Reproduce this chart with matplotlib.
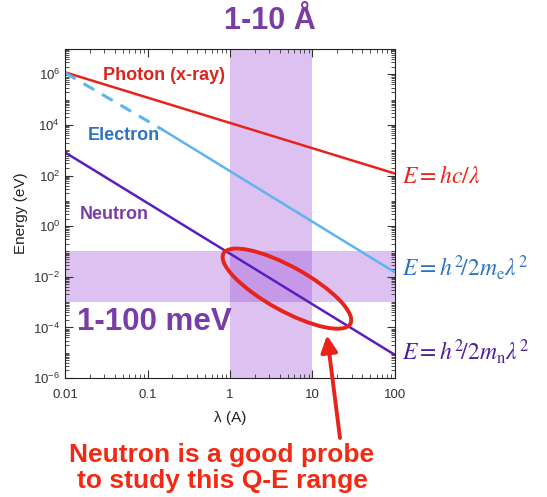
import matplotlib
matplotlib.use("Agg")
import matplotlib.pyplot as plt
from matplotlib.patches import Ellipse
from matplotlib.transforms import ScaledTranslation
from matplotlib.ticker import FixedLocator, LogLocator, NullFormatter, LogFormatterSciNotation
import numpy as np

plt.rcParams['font.family'] = ['Liberation Sans', 'DejaVu Sans']
plt.rcParams['mathtext.fontset'] = 'custom'
plt.rcParams['mathtext.rm'] = 'Liberation Sans'
plt.rcParams['mathtext.it'] = 'Liberation Sans:italic'

# data (wavelength in A, energy in eV)
photon_lam = [0.01, 100]
photon_E = [1.2e6, 1.2e2]
electron_dash_lam = [0.01, 0.154]
electron_dash_E = [1.15e6, 6.3e3]
electron_lam = [0.154, 100]
electron_E = [6.3e3, 1.5e-2]
neutron_lam = [0.01, 100]
neutron_E = [8.2e2, 8.2e-6]

lam_band = [1, 10]        # 1-10 A
E_band = [1e-3, 1e-1]     # 1-100 meV
ell_center = [4.9, 3.4e-3]

xticks = [0.01, 0.1, 1, 10, 100]
xticklabels = ['0.01', '0.1', '1', '10', '100']
yticks = [1e-6, 1e-4, 1e-2, 1e0, 1e2, 1e4, 1e6]

red = '#E8231C'
blue_line = '#5DB4F0'
blue_txt = '#2C73C2'
purple_line = '#5A1EC0'
purple_txt = '#7A3DA8'
band = '#9B4FD9'

fig = plt.figure(figsize=(5.47, 4.97), dpi=100)
ax = fig.add_axes([0.119, 0.2394, 0.603, 0.662])
ax.set_xscale('log')
ax.set_yscale('log')
ax.set_xlim(0.01, 100)
ax.set_ylim(1e-6, 1e7)

ax.axvspan(lam_band[0], lam_band[1], color=band, alpha=0.35, lw=0, zorder=0)
ax.axhspan(E_band[0], E_band[1], color=band, alpha=0.35, lw=0, zorder=0)

ax.plot(photon_lam, photon_E, color=red, lw=1.8)
ax.plot(electron_dash_lam, electron_dash_E, color=blue_line, lw=2.2, dashes=(4, 3))
ax.plot(electron_lam, electron_E, color=blue_line, lw=1.8)
ax.plot(neutron_lam, neutron_E, color=purple_line, lw=1.8)

ax.text(0.029, 9e5, 'Photon (x-ray)', color='#D8261E', fontsize=13, fontweight='bold', va='center')
ax.text(0.019, 4e3, 'Electron', color=blue_txt, fontsize=13, fontweight='bold', va='center')
ax.text(0.0152, 3, 'Neutron', color=purple_txt, fontsize=13, fontweight='bold', va='center')
ax.text(0.0138, 8e-5, '1-100 meV', color=purple_txt, fontsize=22.5, fontweight='bold', va='baseline')

# ellipse sized in inches, centred on data point
tr = fig.dpi_scale_trans + ScaledTranslation(ell_center[0], ell_center[1], ax.transData)
ell = Ellipse((0, 0), 1.45, 0.44, angle=-29, transform=tr, fill=False, ec=red, lw=2.8, zorder=5)
ax.add_patch(ell)

ax.annotate('', xy=(15, 4.9e-5), xycoords='data',
            xytext=(340 / 547, 1 - 438 / 497), textcoords='figure fraction',
            arrowprops=dict(arrowstyle='-|>,head_length=1.0,head_width=0.5', color=red, lw=2.8,
                            shrinkA=0, shrinkB=0),
            annotation_clip=False)

ax.xaxis.set_major_locator(FixedLocator(xticks))
ax.set_xticklabels(xticklabels)
ax.xaxis.set_minor_locator(LogLocator(base=10, subs=np.arange(2, 10), numticks=20))
ax.xaxis.set_minor_formatter(NullFormatter())
ax.yaxis.set_major_locator(FixedLocator(yticks))
ax.yaxis.set_major_formatter(LogFormatterSciNotation())
ax.yaxis.set_minor_locator(LogLocator(base=10, subs=np.arange(1, 10), numticks=30))
ax.yaxis.set_minor_formatter(NullFormatter())
ax.tick_params(which='both', direction='in', top=True, right=True, colors='#333333', labelsize=9.5)
ax.tick_params(which='major', length=6)
ax.tick_params(which='minor', length=3)
ax.tick_params(axis='x', which='major', pad=8)
for s in ax.spines.values():
    s.set_color('#222222')

ax.set_xlabel('λ (A)', fontsize=11, color='#222222', labelpad=7)
ax.set_ylabel('Energy (eV)', fontsize=11, color='#222222', labelpad=4)

fig.text(270 / 547, 1 - 21 / 497, '1-10 Å', color=purple_txt, fontsize=22, fontweight='bold',
         ha='center', va='center')

fig.text(402 / 547, 1 - 177 / 497, r'$E=hc/\lambda$', color=red, fontsize=17,
         va='center', math_fontfamily='stix')
fig.text(402 / 547, 1 - 268 / 497, r'$E=h^2\!/2m_{\rm e}\lambda^2$', color=blue_txt, fontsize=17,
         va='center', math_fontfamily='stix')
fig.text(402 / 547, 1 - 352 / 497, r'$E=h^2\!/2m_{\rm n}\lambda^2$', color='#4B1E9A', fontsize=17,
         va='center', math_fontfamily='stix')

fig.text(222 / 547, 1 - 468 / 497, 'Neutron is a good probe\nto study this Q-E range', color='#F22A14',
         fontsize=19, fontweight='bold', ha='center', va='center', linespacing=1.15)

fig.savefig('out.png', dpi=100)
